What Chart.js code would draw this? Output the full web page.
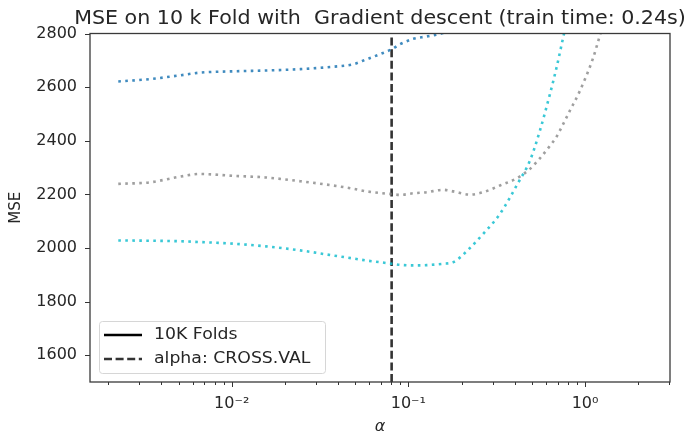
<!DOCTYPE html>
<html>
<head>
<meta charset="utf-8">
<script src="https://cdn.jsdelivr.net/npm/chart.js@4/dist/chart.umd.min.js"></script>
<style>
  html, body { margin: 0; padding: 0; background: #fff; }
  #wrap { width: 688px; height: 436px; }
</style>
</head>
<body>
<div id="wrap"><canvas id="c" width="688" height="436"></canvas></div>
<script>
// Regularisation strengths (alpha) the models were evaluated at
const alphas = [
  0.00228, 0.00345, 0.00510, 0.00662, 0.0102, 0.0156, 0.0244, 0.0375,
  0.0486, 0.0581, 0.0691, 0.0804, 0.0897, 0.1066, 0.127, 0.1576,
  0.1795, 0.2233, 0.2655, 0.330, 0.419, 0.488, 0.555, 0.633,
  0.690, 0.752, 0.821, 0.935, 1.113, 1.188, 1.383
];

// Mean squared error per alpha for each curve
const mseBlue = [
  2621, 2630, 2644, 2654, 2659, 2662, 2667, 2676,
  2685, 2704, 2723, 2741, 2760, 2780, 2789, 2802,
  2815, 2836, 2858, 2890, 2935, 2970, 3010, 3050,
  3080, 3110, 3150, 3210, 3300, 3340, 3420
];
const mseGray = [
  2239, 2245, 2266, 2276, 2269, 2263, 2249, 2233,
  2221, 2211, 2205, 2201, 2198, 2204, 2208, 2217,
  2211, 2199, 2208, 2233, 2263, 2295, 2334, 2381,
  2415, 2462, 2512, 2586, 2710, 2772, 2920
];
const mseCyan = [
  2028, 2027, 2025, 2022, 2016, 2006, 1991, 1972,
  1961, 1953, 1947, 1941, 1937, 1935, 1936, 1941,
  1947, 2000, 2053, 2127, 2244, 2326, 2437, 2574,
  2673, 2785, 2900, 3080, 3330, 3430, 3650
];

// Alpha chosen by cross-validation
const crossValAlpha = 0.0804;

// Axis ranges and ticks
const xRange = [0.001577, 3.027];
const yRange = [1500, 2800];
const yTickValues = [1600, 1800, 2000, 2200, 2400, 2600, 2800];
const xMajorTickValues = [0.01, 0.1, 1];
const xMajorTickLabels = ['10\u207B\u00B2', '10\u207B\u00B9', '10\u2070'];

// Texts
const chartTitle = 'MSE on 10 k Fold with  Gradient descent (train time: 0.24s)';
const xAxisTitle = '\u03B1';
const yAxisTitle = 'MSE';
const legendLabels = ['10K Folds', 'alpha: CROSS.VAL'];

const FONT = "'DejaVu Sans', sans-serif";
const TEXT = '#262626';

// log-axis tick positions: 1..9 times every decade inside the range
function logTicks(min, max) {
  const out = [];
  for (let e = Math.floor(Math.log10(min)); e <= Math.ceil(Math.log10(max)); e++) {
    for (let m = 1; m <= 9; m++) {
      const v = +(m * Math.pow(10, e)).toPrecision(6);
      if (v >= min && v <= max) out.push(v);
    }
  }
  return out;
}
const isMajor = v => xMajorTickValues.some(m => Math.abs(m - v) / m < 1e-6);

function pts(ys) { return alphas.map((a, i) => ({ x: a, y: ys[i] })); }

const dotted = {
  borderWidth: 2.6,
  borderDash: [2.6, 4.4],
  borderCapStyle: 'butt',
  pointRadius: 0,
  fill: false,
  cubicInterpolationMode: 'monotone',
  clip: 0
};

// text drawn slightly widened, like the wide lettering of the figure
function wideText(ctx, str, x, y, sx) {
  ctx.save();
  ctx.translate(x, y);
  ctx.scale(sx, 1);
  ctx.fillText(str, 0, 0);
  ctx.restore();
}

// spines, tick marks, title and legend drawn on top of the plot
const decorations = {
  id: 'decorations',
  afterDraw(chart) {
    const { ctx, chartArea: a, scales: { x, y } } = chart;
    ctx.save();
    // tick marks
    ctx.strokeStyle = '#333';
    ctx.lineWidth = 1;
    x.ticks.forEach(t => {
      const px = Math.round(x.getPixelForValue(t.value)) + 0.5;
      const len = isMajor(t.value) ? 5 : 3;
      ctx.beginPath();
      ctx.moveTo(px, a.bottom);
      ctx.lineTo(px, a.bottom + len);
      ctx.stroke();
    });
    y.ticks.forEach(t => {
      const py = Math.round(y.getPixelForValue(t.value)) + 0.5;
      ctx.beginPath();
      ctx.moveTo(a.left, py);
      ctx.lineTo(a.left - 5, py);
      ctx.stroke();
    });
    // spines
    ctx.strokeStyle = '#3a3a3a';
    ctx.lineWidth = 1.3;
    ctx.strokeRect(a.left, a.top, a.right - a.left, a.bottom - a.top);

    // title
    ctx.fillStyle = TEXT;
    ctx.font = `19px ${FONT}`;
    ctx.textAlign = 'center';
    ctx.textBaseline = 'alphabetic';
    wideText(ctx, chartTitle, (a.left + a.right) / 2, 23.5, 1.085);

    // legend
    const bx = a.left + 9, by = a.bottom - 61, bw = 226, bh = 52;
    ctx.beginPath();
    if (ctx.roundRect) ctx.roundRect(bx + 0.5, by + 0.5, bw, bh, 3);
    else ctx.rect(bx + 0.5, by + 0.5, bw, bh);
    ctx.fillStyle = 'rgba(255,255,255,0.8)';
    ctx.fill();
    ctx.strokeStyle = '#d6d6d6';
    ctx.lineWidth = 1;
    ctx.stroke();

    const rows = [by + 14, by + 38];
    const styles = [[], [8, 3.6]];
    ctx.font = `16px ${FONT}`;
    ctx.textAlign = 'left';
    ctx.textBaseline = 'middle';
    legendLabels.forEach((lab, i) => {
      ctx.strokeStyle = i === 0 ? '#000' : '#333';
      ctx.lineWidth = 2.6;
      ctx.setLineDash(styles[i]);
      ctx.beginPath();
      ctx.moveTo(bx + 5, rows[i]);
      ctx.lineTo(bx + 43, rows[i]);
      ctx.stroke();
      ctx.setLineDash([]);
      ctx.fillStyle = TEXT;
      wideText(ctx, lab, bx + 55, rows[i], 1.08);
    });
    ctx.restore();
  }
};

new Chart(document.getElementById('c'), {
  type: 'line',
  data: {
    datasets: [
      Object.assign({ data: pts(mseBlue), borderColor: 'rgba(31,119,180,0.85)' }, dotted),
      Object.assign({ data: pts(mseGray), borderColor: 'rgba(127,127,127,0.75)' }, dotted),
      Object.assign({ data: pts(mseCyan), borderColor: 'rgba(23,190,207,0.85)' }, dotted),
      {
        data: [{ x: crossValAlpha, y: yRange[0] }, { x: crossValAlpha, y: yRange[1] }],
        borderColor: '#333',
        borderWidth: 2.6,
        borderDash: [8, 3.6],
        borderCapStyle: 'butt',
        pointRadius: 0,
        fill: false,
        clip: 0
      }
    ]
  },
  options: {
    responsive: false,
    animation: false,
    devicePixelRatio: 1,
    layout: { padding: { top: 33.5, right: 18, left: 0, bottom: 0 } },
    plugins: { legend: { display: false }, title: { display: false }, tooltip: { enabled: false } },
    scales: {
      x: {
        type: 'logarithmic',
        min: xRange[0],
        max: xRange[1],
        afterBuildTicks: s => { s.ticks = logTicks(xRange[0], xRange[1]).map(v => ({ value: v })); },
        afterFit: s => { s.height = 54; },
        grid: { display: false, drawTicks: false },
        border: { display: false },
        ticks: {
          autoSkip: false,
          maxRotation: 0,
          padding: 12,
          color: TEXT,
          font: { family: FONT, size: 16 },
          callback: v => {
            const i = xMajorTickValues.findIndex(m => Math.abs(m - v) / m < 1e-6);
            return i >= 0 ? xMajorTickLabels[i] : '';
          }
        },
        title: {
          display: true,
          text: xAxisTitle,
          color: TEXT,
          font: { family: FONT, size: 16, style: 'italic' },
          padding: { top: 0, bottom: 0 }
        }
      },
      y: {
        min: yRange[0],
        max: yRange[1],
        afterBuildTicks: s => { s.ticks = yTickValues.map(v => ({ value: v })); },
        afterFit: s => { s.width = 90; },
        grid: { display: false, drawTicks: false },
        border: { display: false },
        ticks: {
          padding: 13,
          color: TEXT,
          font: { family: FONT, size: 16 },
          callback: v => String(v)
        },
        title: {
          display: true,
          text: yAxisTitle,
          color: TEXT,
          font: { family: FONT, size: 15 },
          padding: { top: 7.5, bottom: 0 }
        }
      }
    }
  },
  plugins: [decorations]
});
</script>
</body>
</html>
